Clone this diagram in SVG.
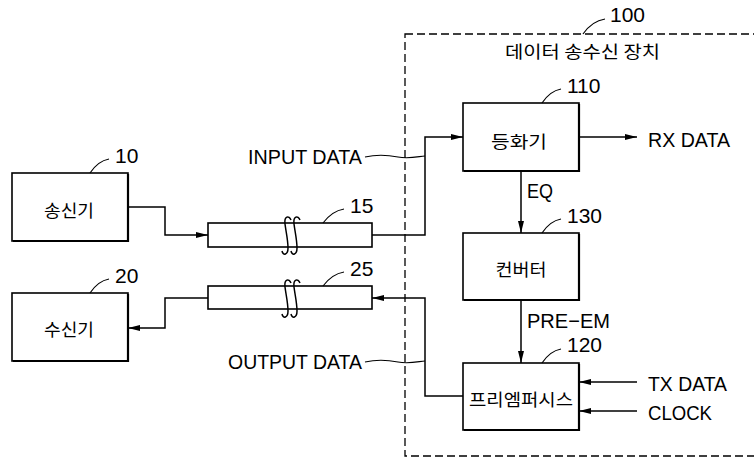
<svg xmlns="http://www.w3.org/2000/svg" width="754" height="458" viewBox="0 0 754 458">
<style>
.box{fill:#fff;stroke:#000;stroke-width:1.6}
.sh{fill:none;stroke:#000;stroke-width:2.2}
.ln{fill:none;stroke:#000;stroke-width:1.5}
.ld{fill:none;stroke:#000;stroke-width:1.2}
.t{font-family:"Liberation Sans","Noto Sans CJK KR",sans-serif;font-size:21px;fill:#000}
.k{font-family:"Noto Sans CJK KR","Liberation Sans",sans-serif;font-size:17px;fill:#000}
</style>
<defs>
<marker id="ah" viewBox="0 0 12 6" refX="12" refY="3" markerWidth="12" markerHeight="6" markerUnits="userSpaceOnUse" orient="auto">
<path d="M0,0 L12,3 L0,6 Z" fill="#000"/>
</marker>
</defs>
<rect id="device100" x="405" y="34" width="360" height="422" fill="none" stroke="#000" stroke-width="1.3" stroke-dasharray="8,4"/>
<g id="lbl100">
<path class="ld" d="M583,34 Q592,21 605,19"/>
<text class="t" x="610" y="22">100</text>
<text class="k" x="505" y="58" textLength="155" lengthAdjust="spacingAndGlyphs">데이터 송수신 장치</text>
</g>
<g id="node10">
<rect class="box" x="12" y="173" width="116" height="68"/>
<path class="sh" d="M128,174 V241 H13"/>
<text class="k" x="69" y="217" text-anchor="middle" textLength="50" lengthAdjust="spacingAndGlyphs">송신기</text>
<path class="ld" d="M90,173 Q98,161 109,159"/>
<text class="t" x="115" y="163">10</text>
</g>
<g id="node20">
<rect class="box" x="12" y="293" width="116" height="68"/>
<path class="sh" d="M128,294 V361 H13"/>
<text class="k" x="69" y="336" text-anchor="middle" textLength="50" lengthAdjust="spacingAndGlyphs">수신기</text>
<path class="ld" d="M90,293 Q98,281 109,279"/>
<text class="t" x="115" y="283">20</text>
</g>
<g id="cable15">
<rect class="box" x="208" y="223" width="164" height="24" stroke-width="1.4"/>
<path class="ln" d="M291,220 C289,215 284,216 285,224 C286,232 288,240 288,248 C288,255 283,256 282,251"/>
<path class="ln" d="M300,220 C298,215 293,216 294,224 C295,232 297,240 297,248 C297,255 292,256 291,251"/>
<path class="ld" d="M323,223 Q332,211 344,209"/>
<text class="t" x="350" y="213">15</text>
</g>
<g id="cable25">
<rect class="box" x="208" y="286" width="164" height="23" stroke-width="1.4"/>
<path class="ln" d="M291,283 C289,278 284,279 285,287 C286,295 288,303 288,311 C288,318 283,319 282,314"/>
<path class="ln" d="M300,283 C298,278 293,279 294,287 C295,295 297,303 297,311 C297,318 292,319 291,314"/>
<path class="ld" d="M323,286 Q332,274 344,272"/>
<text class="t" x="350" y="276">25</text>
</g>
<g id="node110">
<rect class="box" x="463" y="103" width="116" height="68"/>
<path class="sh" d="M579,104 V171 H464"/>
<text class="k" x="519" y="148" text-anchor="middle" textLength="56" lengthAdjust="spacingAndGlyphs">등화기</text>
<path class="ld" d="M542,103 Q550,91 561,89"/>
<text class="t" x="567" y="93">110</text>
</g>
<g id="node130">
<rect class="box" x="463" y="233" width="116" height="67"/>
<path class="sh" d="M579,234 V300 H464"/>
<text class="k" x="521" y="276" text-anchor="middle" textLength="51" lengthAdjust="spacingAndGlyphs">컨버터</text>
<path class="ld" d="M542,233 Q550,221 561,219"/>
<text class="t" x="567" y="223">130</text>
</g>
<g id="node120">
<rect class="box" x="463" y="363" width="116" height="67"/>
<path class="sh" d="M579,364 V430 H464"/>
<text class="k" x="521" y="406" text-anchor="middle" textLength="104" lengthAdjust="spacingAndGlyphs">프리엠퍼시스</text>
<path class="ld" d="M542,363 Q550,351 561,349"/>
<text class="t" x="567" y="352">120</text>
</g>
<g id="connectors">
<path class="ln" d="M128,207 H165 V235 H208" marker-end="url(#ah)"/>
<path class="ln" d="M372,235 H425 V137 H463" marker-end="url(#ah)"/>
<path class="ln" d="M579,137 H637" marker-end="url(#ah)"/>
<path class="ln" d="M521,171 V233" marker-end="url(#ah)"/>
<path class="ln" d="M521,300 V363" marker-end="url(#ah)"/>
<path class="ln" d="M637,382 H579" marker-end="url(#ah)"/>
<path class="ln" d="M637,411 H579" marker-end="url(#ah)"/>
<path class="ln" d="M463,396 H425 V298 H372" marker-end="url(#ah)"/>
<path class="ln" d="M208,298 H165 V328 H128" marker-end="url(#ah)"/>
<path class="ld" d="M365,157 C378,154 388,155 398,157 C408,159 416,157 425,156"/>
<path class="ld" d="M365,362 C378,359 388,360 398,362 C408,364 416,362 425,361"/>
</g>
<g id="labels">
<text class="t" x="248" y="164" font-size="22" textLength="114" lengthAdjust="spacingAndGlyphs">INPUT DATA</text>
<text class="t" x="228" y="369" font-size="22" textLength="134" lengthAdjust="spacingAndGlyphs">OUTPUT DATA</text>
<text class="t" x="648" y="147" textLength="82" lengthAdjust="spacingAndGlyphs">RX DATA</text>
<text class="t" x="648" y="391" textLength="79" lengthAdjust="spacingAndGlyphs">TX DATA</text>
<text class="t" x="648" y="420" textLength="64" lengthAdjust="spacingAndGlyphs">CLOCK</text>
<text class="t" x="527" y="198" textLength="26" lengthAdjust="spacingAndGlyphs">EQ</text>
<text class="t" x="527" y="328" textLength="83" lengthAdjust="spacingAndGlyphs">PRE−EM</text>
</g>
</svg>
